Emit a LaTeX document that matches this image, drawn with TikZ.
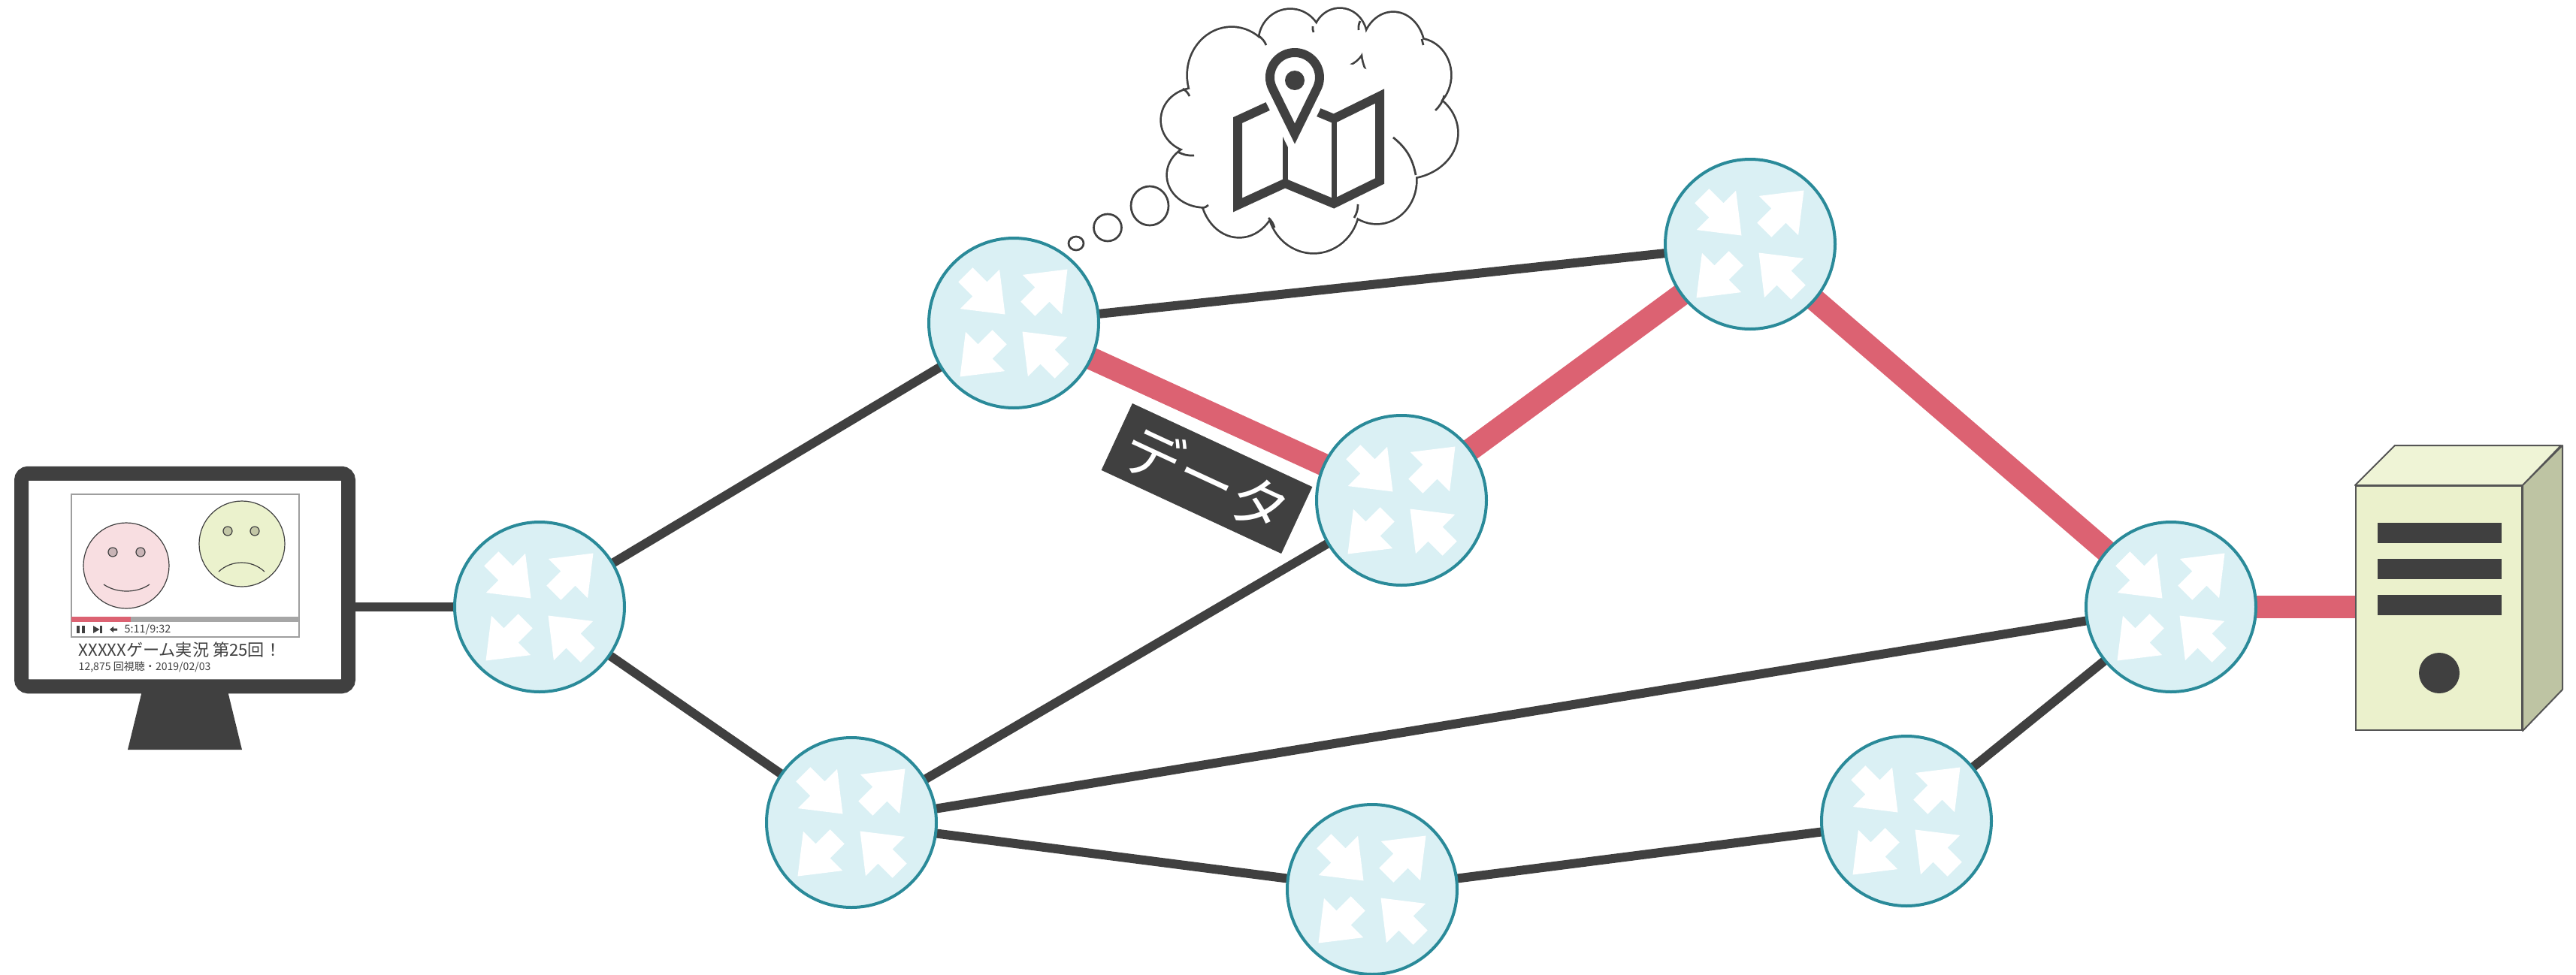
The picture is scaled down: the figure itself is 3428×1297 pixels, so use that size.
\documentclass[tikz,border=0pt]{standalone}
\usepackage{fontspec}
\newfontfamily\jpfont{Noto Sans CJK JP}
\usetikzlibrary{backgrounds}

\definecolor{ink}{HTML}{404040}
\definecolor{hotroute}{HTML}{DC6272}
\definecolor{rfill}{HTML}{DAF0F4}
\definecolor{rline}{HTML}{2A8A99}
\definecolor{bargray}{HTML}{A6A6A6}
\definecolor{framegray}{HTML}{9E9E9E}
\definecolor{pinkface}{HTML}{F8DEE1}
\definecolor{pinkeye}{HTML}{C9B4B6}
\definecolor{greenface}{HTML}{EBF2CD}
\definecolor{greeneye}{HTML}{C3C7A6}
\definecolor{srvfront}{HTML}{EBF1CC}
\definecolor{srvtop}{HTML}{EFF4D6}
\definecolor{srvside}{HTML}{BEC4A3}
\definecolor{srvline}{HTML}{555555}

% four white arrows of a router symbol, relative to the circle centre
\newcommand\routerglyph{%
  \begin{scope}[shift={(path picture bounding box.center)}]
    \fill[white] (-11.5,-11.5) -- (-71.25,-18.92) -- (-54.63,-35.54) -- (-73.73,-54.63)
      -- (-54.63,-73.73) -- (-35.54,-54.63) -- (-18.92,-71.25) -- cycle;
    \fill[white] (11.5,11.5) -- (71.25,18.92) -- (54.63,35.54) -- (73.73,54.63)
      -- (54.63,73.73) -- (35.54,54.63) -- (18.92,71.25) -- cycle;
    \fill[white] (71.5,-71.5) -- (64.08,-11.75) -- (47.46,-28.37) -- (28.37,-9.27)
      -- (9.27,-28.37) -- (28.37,-47.46) -- (11.75,-64.08) -- cycle;
    \fill[white] (-71.5,71.5) -- (-64.08,11.75) -- (-47.46,28.37) -- (-28.37,9.27)
      -- (-9.27,28.37) -- (-28.37,47.46) -- (-11.75,64.08) -- cycle;
  \end{scope}}

\begin{document}
\begin{tikzpicture}[x=0.1mm,y=-0.1mm,
  router/.style={circle, draw=rline, fill=rfill, line width=0.4mm,
    minimum size=22.6mm, inner sep=0pt, path picture={\routerglyph}},
  link/.style={draw=ink, line width=1.2mm},
  hot/.style={draw=hotroute, line width=3mm},
  cloudline/.style={draw=ink, line width=0.27mm},
  faceline/.style={draw=ink, line width=0.12mm},
]
\useasboundingbox (0,0) rectangle (3428,1297);

% ---------------- routers ----------------
\node[router] (r1) at (718,808) {};
\node[router] (r2) at (1349,430) {};
\node[router] (r3) at (1865,666) {};
\node[router] (r4) at (2329,325) {};
\node[router] (r5) at (2889,808) {};
\node[router] (r6) at (1133,1095) {};
\node[router] (r7) at (1826,1184) {};
\node[router] (r8) at (2537,1093) {};

% ---------------- client monitor ----------------
\fill[ink] (189,920) -- (303,920) -- (322,998) -- (170,998) -- cycle;
\node[draw=ink, fill=white, line width=1.9mm, rounded corners=0.9mm,
      minimum width=43.5mm, minimum height=28.35mm, inner sep=0pt] (pc) at (246,772) {};
% video frame
\draw[draw=framegray, line width=0.12mm, fill=white] (95,658) rectangle (398,848);
\fill[hotroute] (95,821) rectangle (174,828);
\fill[bargray] (174,821) rectangle (398,828);
% player controls
\fill[ink] (102,833) rectangle (106,843);
\fill[ink] (109,833) rectangle (113,843);
\fill[ink] (124,833) -- (132.5,838) -- (124,843) -- cycle;
\fill[ink] (133,833) rectangle (136,843);
\fill[ink] (146,838) -- (151,834) -- (151,836.5) -- (156,836.5) -- (156,839.5) -- (151,839.5) -- (151,842) -- cycle;
\node[anchor=west, inner sep=0pt, text=ink, font=\jpfont\fontsize{4.1pt}{5pt}\selectfont] (tm) at (165,838) {5:11/9:32};
% faces
\draw[faceline, fill=pinkface] (168,753) circle[radius=5.7mm];
\draw[faceline, fill=pinkeye] (150,735) circle[radius=0.6mm];
\draw[faceline, fill=pinkeye] (187,735) circle[radius=0.6mm];
\draw[faceline] (138,778) .. controls (155,790) and (182,790) .. (199,778);
\draw[faceline, fill=greenface] (322,724) circle[radius=5.7mm];
\draw[faceline, fill=greeneye] (303,707) circle[radius=0.6mm];
\draw[faceline, fill=greeneye] (339,707) circle[radius=0.6mm];
\draw[faceline] (291,761) .. controls (308,745) and (335,745) .. (352,761);
% captions
\node[anchor=base west, inner sep=0pt, text=ink, font=\jpfont\fontsize{6.3pt}{7pt}\selectfont] (ttl) at (104,873) {XXXXXゲーム実況 第25回！};
\node[anchor=base west, inner sep=0pt, text=ink, font=\jpfont\fontsize{4pt}{5pt}\selectfont] (sub) at (104,892) {12,875 回視聴・2019/02/03};

% ---------------- server ----------------
\node[draw=srvline, fill=srvfront, line width=0.2mm, minimum width=22.1mm,
      minimum height=32.5mm, inner sep=0pt] (srv) at (3245.5,809.5) {};
\draw[draw=srvline, fill=srvtop, line width=0.2mm, line join=round]
  (srv.north west) -- ++(53,-53) -- ++(221,0) -- (srv.north east) -- cycle;
\draw[draw=srvline, fill=srvside, line width=0.2mm, line join=round]
  (srv.north east) -- ++(53,-53) -- ++(0,325) -- (srv.south east) -- cycle;
\fill[ink] (3164,696) rectangle (3329,723);
\fill[ink] (3164,744) rectangle (3329,771);
\fill[ink] (3164,792) rectangle (3329,819);
\fill[ink] (3246,896) circle[radius=2.7mm];

% ---------------- data tag ----------------
\node[fill=ink, text=white, rotate=-24.9, minimum width=26.4mm, minimum height=9.8mm,
      inner sep=0pt, font=\jpfont\fontsize{22pt}{22pt}\selectfont] (tag) at (1606,637) {データ};

% ---------------- thought bubble ----------------
\draw[cloudline] (1432,324) ellipse[x radius=1.0mm, y radius=0.9mm];
\draw[cloudline] (1474,303) ellipse[x radius=1.85mm, y radius=1.8mm];
\draw[cloudline] (1530,274) ellipse[x radius=2.5mm, y radius=2.6mm];
% cloud: union of puffs (outline = outer half of a double-width stroke)
\def\puffs{%
  (1639,100) ellipse[x radius=5.8mm, y radius=6.3mm]
  (1717,55) ellipse[x radius=4.1mm, y radius=4.2mm]
  (1783,50) ellipse[x radius=3.5mm, y radius=3.8mm]
  (1854,67) ellipse[x radius=4.1mm, y radius=5.0mm]
  (1886,100) ellipse[x radius=4.4mm, y radius=4.8mm]
  (1868,177) ellipse[x radius=7.1mm, y radius=6.0mm]
  (1832,240) ellipse[x radius=5.2mm, y radius=5.7mm]
  (1748,273) ellipse[x radius=6.0mm, y radius=6.3mm]
  (1649,253) ellipse[x radius=5.1mm, y radius=6.2mm]
  (1603,233) ellipse[x radius=4.9mm, y radius=4.2mm]
  (1592,160) ellipse[x radius=4.6mm, y radius=4.2mm]}
\draw[draw=ink, line width=0.54mm] \puffs;
\fill[white] \puffs;
\fill[white] (1750,170) ellipse[x radius=13.6mm, y radius=9mm];
% creases between puffs
\draw[cloudline] (1674,47) to[bend left=15] (1685,60);
\draw[cloudline] (1747,35) to[bend right=15] (1748,43);
\draw[cloudline] (1810,28) to[bend right=15] (1808,40);
\draw[cloudline] (1892,52) -- (1894,60);
\draw[cloudline] (1922,127) to[bend left=15] (1910,147);
\draw[cloudline] (1854,183) to[bend left=20] (1884,233);
\draw[cloudline] (1807,272) to[bend left=15] (1802,290);
\draw[cloudline] (1688,290) to[bend left=15] (1696,303);
\draw[cloudline] (1608,273) to[bend left=15] (1600,277);
\draw[cloudline] (1589,207) to[bend left=15] (1567,202);
\draw[cloudline] (1574,118) to[bend left=15] (1583,128);
% folded map
\draw[draw=ink, line width=1.2mm, line join=miter]
  (1647,160) -- (1710,131) -- (1775,158) -- (1836,128) -- (1836,241)
  -- (1775,271) -- (1710,244) -- (1647,273) -- cycle;
\draw[draw=ink, line width=0.7mm] (1710,131) -- (1710,244);
\draw[draw=ink, line width=0.7mm] (1775,158) -- (1775,271);
% location pin with white halo
\draw[draw=white, fill=white, line width=3.2mm, line join=miter]
  (1723,178) -- (1752.6,117.5) arc[start angle=-26.1, end angle=206.1, radius=3.3mm] -- cycle;
\draw[draw=ink, fill=white, line width=1.2mm, line join=miter]
  (1723,178) -- (1752.6,117.5) arc[start angle=-26.1, end angle=206.1, radius=3.3mm] -- cycle;
\fill[ink] (1723,107) circle[radius=1.3mm];

% ---------------- connectors ----------------
\begin{scope}[on background layer]
  \draw[link] (pc.east |- r1.center) -- (r1.center);
  \draw[link] (r1.center) -- (r2.center);
  \draw[link] (r1.center) -- (r6.center);
  \draw[link] (r2.center) -- (r4.center);
  \draw[link] (r3.center) -- (r6.center);
  \draw[link] (r6.center) -- (r5.center);
  \draw[link] (r6.center) -- (r7.center);
  \draw[link] (r7.center) -- (r8.center);
  \draw[link] (r8.center) -- (r5.center);
  \draw[hot] (r2.center) -- (r3.center);
  \draw[hot] (r3.center) -- (r4.center);
  \draw[hot] (r4.center) -- (r5.center);
  \draw[hot] (r5.center) -- (srv.west |- r5.center);
\end{scope}
\end{tikzpicture}
\end{document}
